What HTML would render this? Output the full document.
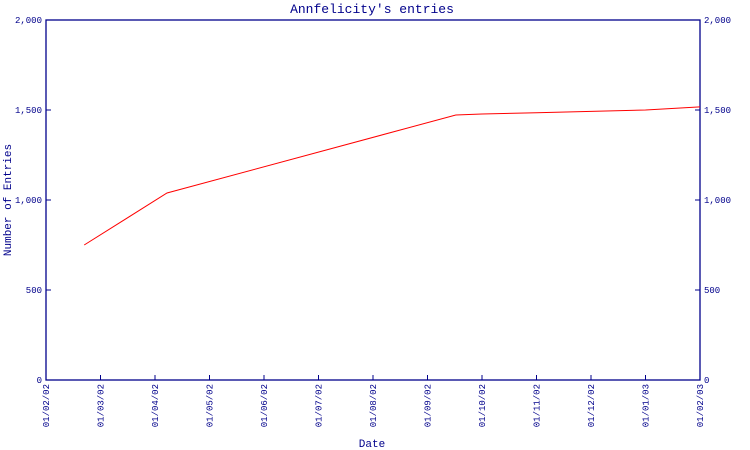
<!DOCTYPE html>
<html><head><meta charset="utf-8"><style>
body{margin:0;background:#fff}
svg{display:block}
text{font-family:"Liberation Mono","DejaVu Sans Mono",monospace;fill:#00008b}
</style></head><body>
<svg id="chart" width="750" height="450" viewBox="0 0 750 450">
<text x="372" y="13" text-anchor="middle" font-size="13">Annfelicity's entries</text>
<text x="372" y="447" text-anchor="middle" font-size="11">Date</text>
<text transform="translate(11,200) rotate(-90)" text-anchor="middle" font-size="11">Number of Entries</text>
<g id="axes"></g>
<g id="series"></g>
</svg>
<script>
const xTickLabels=["01/02/02","01/03/02","01/04/02","01/05/02","01/06/02","01/07/02","01/08/02","01/09/02","01/10/02","01/11/02","01/12/02","01/01/03","01/02/03"];
const yTicks=[0,500,1000,1500,2000];
const yTickLabels=["0","500","1,000","1,500","2,000"];
const pointMonths=[0.7,2.22,7.52,8.0,9.0,10.0,11.0,12.0];
const pointValues=[750,1039,1472,1478,1485,1492,1500,1517];
const L=46,R=700,T=20,B=380;
const ns="http://www.w3.org/2000/svg";
const x=m=>L+(R-L)*m/(xTickLabels.length-1);
const y=v=>B-(B-T)*v/2000;
const axes=document.getElementById('axes'),series=document.getElementById('series');
function mk(tag,attrs,parent){const e=document.createElementNS(ns,tag);for(const k in attrs)e.setAttribute(k,attrs[k]);parent.appendChild(e);return e;}
const frame=mk('rect',{x:L,y:T,width:R-L,height:B-T,fill:'none',stroke:'#00008b','stroke-width':1.3},axes);


yTicks.forEach((v,i)=>{
  const tl=mk('line',{x1:L,x2:L+5,y1:y(v),y2:y(v),stroke:'#00008b'},axes);
  
  
  const tr=mk('line',{x1:R-5,x2:R,y1:y(v),y2:y(v),stroke:'#00008b'},axes);
  
  
  const a=mk('text',{x:L-4,y:y(v)+3,'text-anchor':'end','font-size':9},axes);a.textContent=yTickLabels[i];
  
  
  const b=mk('text',{x:R+4,y:y(v)+3,'text-anchor':'start','font-size':9},axes);b.textContent=yTickLabels[i];
  
  
});
xTickLabels.forEach((lab,i)=>{
  const t=mk('line',{x1:x(i),x2:x(i),y1:B-5,y2:B,stroke:'#00008b'},axes);
  
  
  const tx=mk('text',{transform:`translate(${x(i)+3},384) rotate(-90)`,'text-anchor':'end','font-size':9},axes);tx.textContent=lab;
  
  
});
const pts=pointMonths.map((m,i)=>x(m).toFixed(1)+','+y(pointValues[i]).toFixed(1)).join(' ');
const line=mk('polyline',{points:pts,fill:'none',stroke:'#ff0000','stroke-width':1},series);


</script>
</body></html>
